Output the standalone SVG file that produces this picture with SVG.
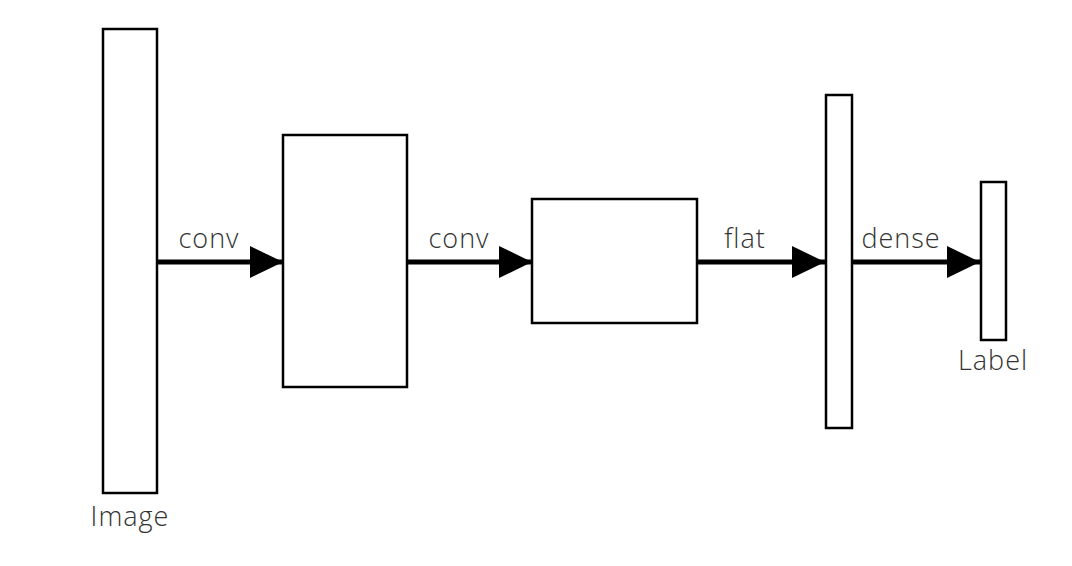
<svg xmlns="http://www.w3.org/2000/svg" width="1072" height="566" viewBox="0 0 1072 566">
<style>
.n{fill:#fff;stroke:#000;stroke-width:2.5}
.c{stroke:#000;stroke-width:5;fill:none}
text{font-family:"Open Sans","Noto Sans",sans-serif;font-weight:300;font-size:27px;letter-spacing:1px;fill:#333}
</style>
<defs><marker id="a" markerUnits="userSpaceOnUse" markerWidth="34" markerHeight="32" refX="33" refY="16" orient="auto"><path d="M0,0 L33,16 L0,32 Z" fill="#000"/></marker></defs>
<rect width="1072" height="566" fill="#fff"/>
<g id="image"><rect class="n" x="103" y="29" width="54" height="464"/><text x="130" y="526" text-anchor="middle">Image</text></g>
<g id="conv1"><rect class="n" x="283" y="135" width="124" height="252"/></g>
<g id="conv2"><rect class="n" x="532" y="199" width="165" height="124"/></g>
<g id="flat"><rect class="n" x="826" y="95" width="26" height="333"/></g>
<g id="label"><rect class="n" x="981" y="182" width="25" height="158"/><text x="993" y="370" text-anchor="middle">Label</text></g>
<g id="connectors">
<line class="c" x1="158" y1="262" x2="283" y2="262" marker-end="url(#a)"/>
<line class="c" x1="408" y1="262" x2="532" y2="262" marker-end="url(#a)"/>
<line class="c" x1="698" y1="262" x2="825" y2="262" marker-end="url(#a)"/>
<line class="c" x1="853" y1="262" x2="980" y2="262" marker-end="url(#a)"/>
<text x="209" y="248" text-anchor="middle">conv</text>
<text x="459" y="248" text-anchor="middle">conv</text>
<text x="745" y="248" text-anchor="middle">flat</text>
<text x="901" y="248" text-anchor="middle">dense</text>
</g>
</svg>
